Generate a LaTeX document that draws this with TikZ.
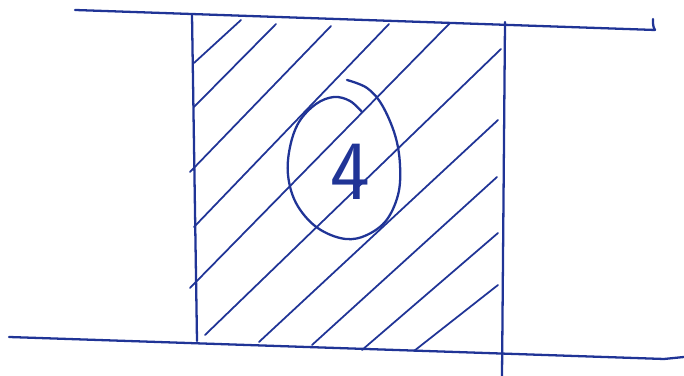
\documentclass[tikz,border=0pt]{standalone}
\usepackage{tikz}
\usetikzlibrary{positioning}
\definecolor{azulCaneta}{RGB}{32,52,150}
\tikzset{
  traco/.style={draw=azulCaneta, line width=0.65pt, line cap=round, line join=round},
  hachura/.style={draw=azulCaneta, line width=0.5pt, line cap=round},
  numeral/.style={text=azulCaneta, font=\fontsize{24}{24}\selectfont\sffamily, inner sep=0pt},
}
\begin{document}
\begin{tikzpicture}[x=0.1mm, y=-0.1mm]
  \useasboundingbox (0,0) rectangle (684,376);
  % linhas horizontais
  \draw[traco] (75,10) -- (655,30) .. controls (653,26) .. (653,19);
  \draw[traco] (9,337) -- (664,359) -- (684,357);
  % laterais da faixa
  \draw[traco] (192,15) -- (197,341);
  \draw[traco] (505,22) -- (502,376);
  % hachuras
  \foreach \xa/\ya/\xb/\yb in {194/63/241/20, 194/107/276/24, 190/172/331/26,
      194/227/389/24, 190/288/450/23, 205/335/501/49, 259/342/498/120,
      312/345/497/177, 362/350/498/233, 414/351/498/285}
    \draw[hachura] (\xa,\ya) -- (\xb,\yb);
  % circulo com o numero
  \draw[traco] plot[smooth, tension=0.6] coordinates {(347,80) (367,88) (382,105)
      (395,135) (400,165) (398,195) (385,222) (362,237) (340,238) (315,226)
      (296,203) (288,175) (290,147) (299,122) (316,104) (334,97) (350,101)
      (362,112)};
  \node[numeral] (numero) at (350,172) {4};
\end{tikzpicture}
\end{document}
